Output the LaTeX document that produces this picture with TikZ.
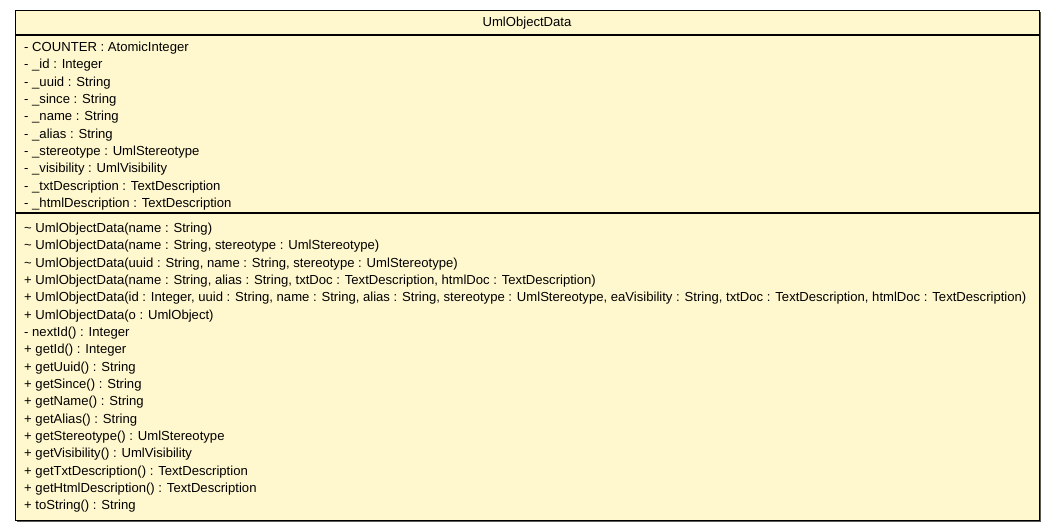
\documentclass[tikz,border=0pt]{standalone}
\usepackage{fontspec}
\setmainfont{Liberation Sans}
\definecolor{umlfill}{RGB}{255,248,206}
\definecolor{umlshadow}{RGB}{90,90,80}
\begin{document}
\begin{tikzpicture}[x=1pt,y=-1pt,
  txt/.style={anchor=west,inner sep=0pt,font=\fontsize{13.1}{14}\selectfont},
  ttl/.style={inner sep=0pt,font=\fontsize{13.1}{14}\selectfont}]
\useasboundingbox (0,0) rectangle (1056,531);
% shadow
\fill[umlshadow] (17,12) rectangle (1041,522);
\draw[fill=umlfill,line width=1pt] (15,10) rectangle (1039,520);
\draw[line width=1.2pt] (15,35) -- (1039,35);
\draw[line width=1.2pt] (15,213) -- (1039,213);
\node[ttl] (title) at (527,23.5) {UmlObjectData};
\foreach \t [count=\i] in {
 {- COUNTER : AtomicInteger},
 {- \_id : Integer},
 {- \_uuid : String},
 {- \_since : String},
 {- \_name : String},
 {- \_alias : String},
 {- \_stereotype : UmlStereotype},
 {- \_visibility : UmlVisibility},
 {- \_txtDescription : TextDescription},
 {- \_htmlDescription : TextDescription}}
 \node[txt] (a\i) at (24,{48+(\i-1)*17.33}) {\t};
\foreach \t [count=\i] in {
 {\char`\~\ UmlObjectData(name : String)},
 {\char`\~\ UmlObjectData(name : String, stereotype : UmlStereotype)},
 {\char`\~\ UmlObjectData(uuid : String, name : String, stereotype : UmlStereotype)},
 {+ UmlObjectData(name : String, alias : String, txtDoc : TextDescription, htmlDoc : TextDescription)},
 {+ UmlObjectData(id : Integer, uuid : String, name : String, alias : String, stereotype : UmlStereotype, eaVisibility : String, txtDoc : TextDescription, htmlDoc : TextDescription)},
 {+ UmlObjectData(o : UmlObject)},
 {- nextId() : Integer},
 {+ getId() : Integer},
 {+ getUuid() : String},
 {+ getSince() : String},
 {+ getName() : String},
 {+ getAlias() : String},
 {+ getStereotype() : UmlStereotype},
 {+ getVisibility() : UmlVisibility},
 {+ getTxtDescription() : TextDescription},
 {+ getHtmlDescription() : TextDescription},
 {+ toString() : String}}
 \node[txt] (m\i) at (24,{229+(\i-1)*17.35}) {\t};
\end{tikzpicture}
\end{document}
